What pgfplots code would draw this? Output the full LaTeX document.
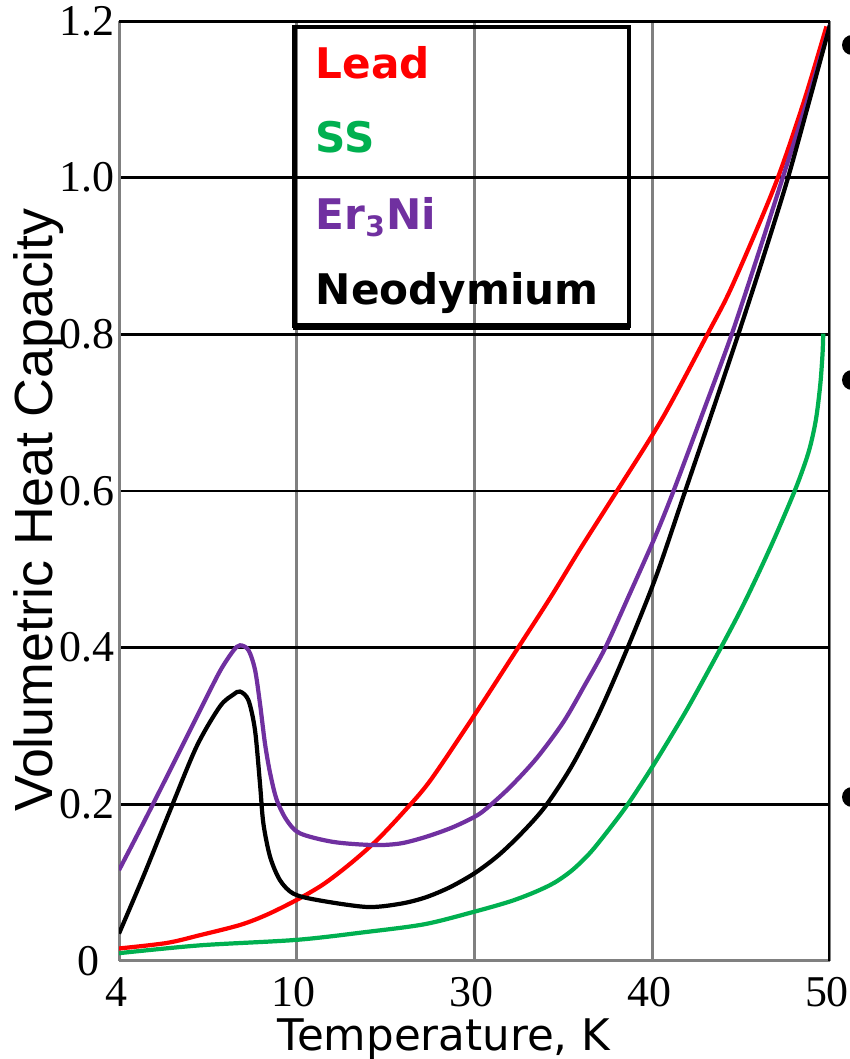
\documentclass[border=0pt]{standalone}
\usepackage{fontspec}
\setmainfont{Liberation Serif}
\newfontfamily\lsans{Liberation Sans}
\newfontfamily\dejavu{DejaVu Sans}
\usepackage{pgfplots}
\pgfplotsset{compat=1.18}
\definecolor{leadred}{RGB}{255,0,0}
\definecolor{ssgreen}{RGB}{0,176,80}
\definecolor{ernipurple}{RGB}{112,48,160}
\definecolor{gridgray}{RGB}{128,128,128}

% x positions 0..4 stand for the ticks 4, 10, 30, 40, 50 K
\pgfplotstableread{
p v
0.000 0.016
0.268 0.023
0.456 0.033
0.681 0.046
0.831 0.059
1.000 0.078
1.150 0.098
1.300 0.124
1.450 0.154
1.600 0.190
1.750 0.230
2.000 0.314
2.237 0.397
2.430 0.465
2.600 0.528
2.810 0.603
3.060 0.694
3.315 0.802
3.450 0.862
3.690 0.990
3.850 1.095
3.980 1.193
}\leadtab

\pgfplotstableread{
p v
0.000 0.010
0.456 0.020
1.000 0.027
1.390 0.037
1.720 0.047
2.000 0.063
2.200 0.076
2.340 0.088
2.450 0.100
2.550 0.116
2.650 0.138
2.750 0.166
2.850 0.196
2.950 0.230
3.050 0.266
3.200 0.323
3.372 0.394
3.500 0.449
3.606 0.499
3.700 0.546
3.810 0.605
3.880 0.650
3.920 0.690
3.945 0.735
3.958 0.775
3.962 0.801
}\sstab

\pgfplotstableread{
p v
0.000 0.116
0.137 0.176
0.306 0.252
0.456 0.320
0.568 0.370
0.643 0.396
0.681 0.403
0.728 0.397
0.765 0.372
0.793 0.329
0.821 0.278
0.850 0.240
0.887 0.206
0.943 0.180
1.018 0.163
1.206 0.152
1.431 0.148
1.581 0.150
1.720 0.158
1.870 0.170
2.000 0.184
2.069 0.195
2.200 0.222
2.350 0.259
2.500 0.305
2.620 0.352
2.734 0.399
2.870 0.467
3.015 0.541
3.118 0.599
3.280 0.697
3.447 0.800
3.600 0.905
3.730 0.997
3.870 1.097
4.000 1.195
}\ernitab

\pgfplotstableread{
p v
0.000 0.035
0.137 0.108
0.287 0.192
0.437 0.274
0.568 0.325
0.643 0.340
0.681 0.344
0.728 0.333
0.765 0.295
0.793 0.227
0.812 0.176
0.850 0.133
0.906 0.103
0.981 0.086
1.112 0.078
1.393 0.069
1.581 0.073
1.722 0.081
1.860 0.094
2.000 0.112
2.130 0.134
2.260 0.162
2.397 0.197
2.550 0.250
2.700 0.316
2.856 0.397
3.020 0.490
3.184 0.599
3.330 0.696
3.484 0.800
3.620 0.895
3.760 0.997
3.880 1.095
4.000 1.195
}\ndtab

\begin{document}
\begin{tikzpicture}
\path[use as bounding box] (0,0) rectangle (8.5cm,10.59cm);
\begin{axis}[
  scale only axis, width=7.11cm, height=9.40cm,
  at={(1.19cm,0.98cm)}, anchor=south west,
  xmin=0, xmax=4, ymin=0, ymax=1.2,
  xtick={0,1,2,3,4}, xticklabels={4,10,30,40,50},
  ytick={0,0.2,0.4,0.6,0.8,1.0,1.2},
  yticklabels={0\hspace*{0.15cm},0.2,0.4,0.6,0.8,1.0,1.2},
  axis line style={draw=none},
  major tick length=0pt,
  xmajorgrids, ymajorgrids,
  x grid style={draw=gridgray, line width=0.8pt},
  y grid style={draw=black, line width=0.75pt},
  tick label style={font=\fontsize{12.5}{14}\selectfont, inner sep=0pt},
  xticklabel style={anchor=north, yshift=-0.16cm, xshift=-0.03cm},
  yticklabel style={anchor=east, xshift=-0.04cm},
]
\draw[gridgray, line width=1pt] (rel axis cs:0,0) -- (rel axis cs:0,1);
\draw[gridgray, line width=1pt] (rel axis cs:0,0) -- (rel axis cs:1,0);
\draw[black, line width=1pt] (rel axis cs:0,1) -- (rel axis cs:1,1);
\draw[black, line width=1pt] (rel axis cs:1,0) -- (rel axis cs:1,1);
\addplot[ssgreen, line width=1.2pt, smooth, tension=0.5] table {\sstab};
\addplot[leadred, line width=1.2pt, smooth, tension=0.5] table {\leadtab};
\addplot[ernipurple, line width=1.2pt, smooth, tension=0.5] table {\ernitab};
\addplot[black, line width=1.2pt, smooth, tension=0.5] table {\ndtab};
\end{axis}

% legend box, text only
\draw[line width=1.2pt] (2.945,7.327) rectangle (6.29,10.32);
\draw[line width=2.1pt] (2.93,7.327) -- (6.30,7.327);
\begin{scope}[every node/.style={anchor=base west, inner sep=0pt,
    font={\dejavu\bfseries\fontsize{12}{14}\selectfont}}]
\node[text=leadred] at (3.15,9.80) {Lead};
\node[text=ssgreen] at (3.15,9.06) {SS};
\node[text=ernipurple] at (3.15,8.29) {Er\textsubscript{3}Ni};
\node[text=black] at (3.15,7.54) {Neodymium};
\end{scope}

% axis titles
\node[anchor=base, inner sep=0pt, font={\dejavu\fontsize{12.4}{14}\selectfont}]
  at (4.44,0.09) {Temperature, K};
\node[anchor=base, rotate=90, inner sep=0pt, font={\lsans\fontsize{15.3}{17}\selectfont}]
  at (0.52,5.49) {Volumetric Heat Capacity};

% slide bullets cut off at the right edge
\fill (8.52,10.14) circle (0.1);
\fill (8.52,6.79) circle (0.1);
\fill (8.52,2.62) circle (0.1);
\end{tikzpicture}
\end{document}
